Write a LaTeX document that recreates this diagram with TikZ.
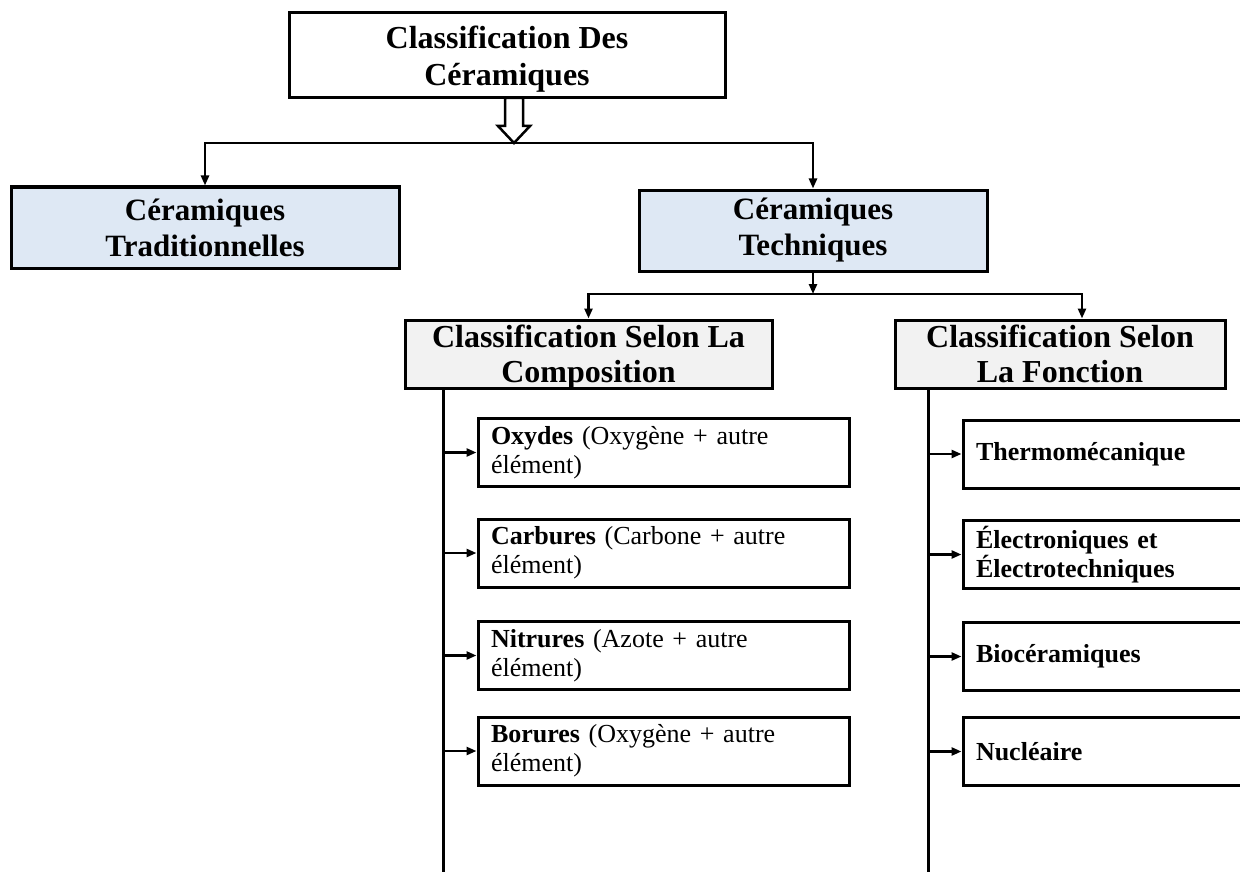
\documentclass[tikz,border=0pt]{standalone}
\usepackage{fontspec}
\setmainfont{Liberation Serif}
\usetikzlibrary{arrows.meta}

\definecolor{blueish}{HTML}{DEE8F4}
\definecolor{greyish}{HTML}{F2F2F2}

\begin{document}
\begin{tikzpicture}[
  x=1pt, y=-1pt,
  base/.style={draw, line width=3pt, rectangle, align=center, inner sep=0pt},
  topbox/.style={base, fill=white, minimum width=436pt, minimum height=85pt, text depth=0pt, font=\bfseries\fontsize{32}{37}\selectfont},
  mainbox/.style={base, fill=blueish, minimum height=81pt, font=\bfseries\fontsize{31}{36}\selectfont},
  classbox/.style={base, fill=greyish, minimum height=68pt, text depth=0pt, font=\bfseries\fontsize{32}{35}\selectfont},
  itembox/.style={base, fill=white, align=left, text width=#1, minimum height=68pt, inner xsep=13pt, font=\fontsize{26}{29}\selectfont},
  conn/.style={line width=2.5pt, -{Triangle[length=10pt,width=8pt]}},
  spine/.style={line width=3pt}
]
\useasboundingbox (0,0) rectangle (1240,872);

% Root
\node[topbox] (top) at (507,55.5) {Classification Des\\Céramiques};

% Level 1
\node[mainbox, minimum width=388pt] (trad) at (205,227.5) {Céramiques\\Traditionnelles};
\node[mainbox, minimum width=348pt] (tech) at (813,230.5) {Céramiques\\Techniques};

% Level 2
\node[classbox, minimum width=367pt] (comp) at (588.5,354) {Classification Selon La\\Composition};
\node[classbox, minimum width=330pt] (fonc) at (1060,354) {Classification Selon\\La Fonction};

% Composition
\node[itembox=345pt] (oxy) at (663.5,452.5) {\textbf{Oxydes} (Oxygène + autre\\élément)};
\node[itembox=345pt] (carb) at (663.5,553) {\textbf{Carbures} (Carbone + autre\\élément)};
\node[itembox=345pt] (nitr) at (663.5,655.5) {\textbf{Nitrures} (Azote + autre\\élément)};
\node[itembox=345pt] (bor) at (663.5,751) {\textbf{Borures} (Oxygène + autre\\élément)};

% Fonction
\node[itembox=273pt] (thermo) at (1112.5,454) {\textbf{Thermomécanique}};
\node[itembox=273pt] (elec) at (1112.5,554.5) {\textbf{Électroniques et}\\\textbf{Électrotechniques}};
\node[itembox=273pt] (bio) at (1112.5,656.5) {\textbf{Biocéramiques}};
\node[itembox=273pt] (nucl) at (1112.5,751.5) {\textbf{Nucléaire}};

% Connectors
\coordinate (split1) at (514,143);
\coordinate (split2) at (813,294);
\coordinate (spineL) at (443,880);
\coordinate (spineR) at (928,880);

\draw[conn] (split1) -| (trad.north);
\draw[conn] (split1) -| (tech.north);
\draw[line width=2.5pt, fill=white] (split1) -- ++(-16,-17) -- ++(7,0) -- ++(0,-28)
  -- ++(18,0) -- ++(0,28) -- ++(7,0) -- cycle;

\draw[conn] (tech.south) -- (split2);
\draw[conn] (split2) -| (comp.north);
\draw[conn] (split2) -| ([xshift=22pt]fonc.north);

\draw[spine] (comp.south -| spineL) -- (spineL);
\draw[spine] (fonc.south -| spineR) -- (spineR);
\foreach \n in {oxy,carb,nitr,bor}
  \draw[conn] (\n.west -| spineL) -- (\n.west);
\foreach \n in {thermo,elec,bio,nucl}
  \draw[conn] (\n.west -| spineR) -- (\n.west);
\end{tikzpicture}
\end{document}
